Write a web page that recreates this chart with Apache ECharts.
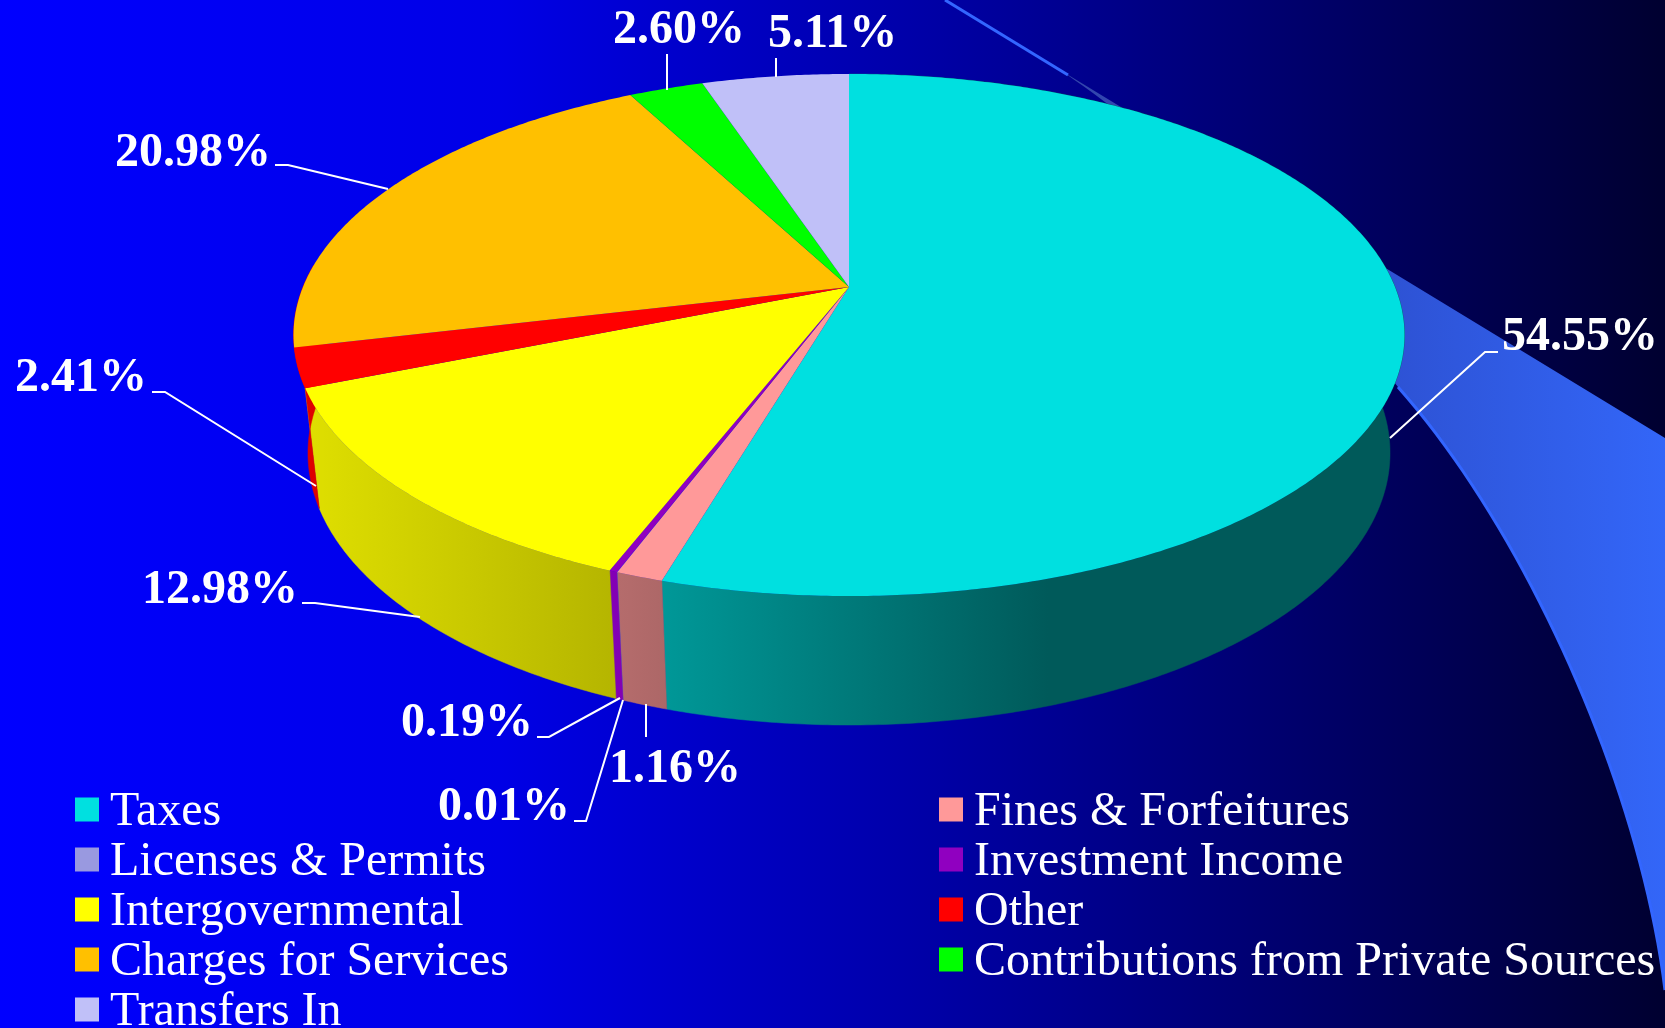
<!DOCTYPE html>
<html>
<head>
<meta charset="utf-8">
<title>Revenue sources</title>
<style>
  html, body { margin: 0; padding: 0; background: #000; }
  #chart { width: 1665px; height: 1028px; }
</style>
<script src="https://cdn.jsdelivr.net/npm/echarts@6/dist/echarts.min.js"></script>
</head>
<body>
<div id="chart"></div>
<script>
// values, clockwise from 12 o'clock
const categories = ['Taxes', 'Fines & Forfeitures', 'Licenses & Permits', 'Investment Income', 'Intergovernmental', 'Other', 'Charges for Services', 'Contributions from Private Sources', 'Transfers In']
const shares = [54.55, 1.16, 0.01, 0.19, 12.98, 2.41, 20.98, 2.60, 5.11]
const colors = ['#00E0E0', '#FF9999', '#9999E0', '#9000C0', '#FFFF00', '#FF0000', '#FFC000', '#00FF00', '#C0C0F8']
const sideColors = ['#00E0E0', '#FF9999', '#9999E0', '#B800FF', '#FFFF00', '#FF0000', '#FFC000', '#00FF00', '#C0C0F8']
const leftColumn = ['Taxes', 'Licenses & Permits', 'Intergovernmental', 'Charges for Services', 'Transfers In']
const rightColumn = ['Fines & Forfeitures', 'Investment Income', 'Other', 'Contributions from Private Sources']

// label anchors (text left, baseline) and leader lines, same order as categories
const labelPos = [[1502, 351], [609, 783], [438, 821], [401, 737], [142, 604], [15, 392], [115, 167], [613, 44], [768, 48]]
const leaderLines = [
  [[1390, 438], [1485, 352], [1498, 352]],
  [[646, 737], [646, 704]],
  [[574, 821], [586, 821], [623, 700]],
  [[537, 737], [549, 737], [620, 698]],
  [[302, 603], [315, 603], [420, 617]],
  [[152, 392], [165, 392], [316, 486]],
  [[275, 165], [288, 165], [388, 189]],
  [[667, 54], [667, 90]],
  [[776, 58], [776, 77]]
]

// the disc is drawn in perspective: its centre sits above the middle of the ellipse
const TILT = 0.1839
const topFace = { cx: 849, cy: 287, a: 546, b: 252.2 }
const baseFace = { cx: 849, cy: 403, a: 531.8, b: 262.8 }

function project(face, deg) {
  const t = deg * Math.PI / 180
  const u = Math.sin(t)
  const v = Math.cos(t)
  const w = 1 + TILT * v
  return [face.cx + face.a * u / w, face.cy - face.b * v / w]
}

function arc(face, from, to) {
  const n = Math.max(2, Math.ceil((to - from) / 0.5))
  const pts = []
  for (let i = 0; i <= n; i++) pts.push(project(face, from + (to - from) * i / n))
  return pts
}

const total = shares.reduce((s, v) => s + v, 0)
function sliceRange(index) {
  let before = 0
  for (let i = 0; i < index; i++) before += shares[i]
  return [before / total * 360, (before + shares[index]) / total * 360]
}

function shade(hex, f) {
  const n = parseInt(hex.slice(1), 16)
  const c = [n >> 16, (n >> 8) & 255, n & 255].map(x => Math.round(x * f))
  return 'rgb(' + c.join(',') + ')'
}

// side wall lighting goes left to right
function sideFill(color) {
  return new echarts.graphic.LinearGradient(300, 0, 1400, 0, [
    { offset: 0, color: shade(color, 0.88) },
    { offset: 0.3, color: shade(color, 0.7) },
    { offset: 0.68, color: shade(color, 0.4) },
    { offset: 1, color: shade(color, 0.4) }
  ], true)
}

// swoosh outline behind the pie, lower edge is two curves
function bezier(p0, p1, p2, p3) {
  const pts = []
  for (let i = 0; i <= 40; i++) {
    const t = i / 40
    const s = 1 - t
    pts.push([
      s * s * s * p0[0] + 3 * s * s * t * p1[0] + 3 * s * t * t * p2[0] + t * t * t * p3[0],
      s * s * s * p0[1] + 3 * s * s * t * p1[1] + 3 * s * t * t * p2[1] + t * t * t * p3[1]
    ])
  }
  return pts
}
const swooshLower = bezier([1665, 990], [1640, 785], [1525, 530], [1398, 387])
const swoosh = [[945, 0], [1665, 438]].concat(
  swooshLower,
  bezier([1398, 387], [1310, 275], [1190, 158], [1053, 65])
)

// walls behind the pie are never seen; the last front wall runs on to the silhouette
const WALL_END = 275
const sideSeries = categories.map((name, i) => ({
  type: 'custom',
  name: 'side ' + name,
  coordinateSystem: 'none',
  silent: true,
  z: 2,
  data: [[shares[i]]],
  renderItem() {
    const [from, to] = sliceRange(i)
    if (from > 180 + 76) return null
    const end = sliceRange(i + 1)[0] > 256 && sliceRange(i)[1] > 256 ? WALL_END : to
    const points = arc(topFace, from, end).concat(arc(baseFace, from, end).reverse())
    const fill = sideFill(sideColors[i])
    return { type: 'polygon', shape: { points }, style: { fill, stroke: fill, lineWidth: 0.5 } }
  }
}))

const topSeries = categories.map((name, i) => ({
  type: 'custom',
  name,
  coordinateSystem: 'none',
  silent: true,
  z: 3,
  itemStyle: { color: colors[i] },
  data: [[shares[i]]],
  renderItem() {
    const [from, to] = sliceRange(i)
    const points = [[topFace.cx, topFace.cy]].concat(arc(topFace, from, to))
    return { type: 'polygon', shape: { points }, style: { fill: colors[i] } }
  }
}))

const labelSeries = {
  type: 'custom',
  name: 'labels',
  coordinateSystem: 'none',
  silent: true,
  z: 4,
  data: shares.map((v, i) => [v, i]),
  renderItem(params, api) {
    const i = api.value(1)
    return {
      type: 'group',
      children: [
        { type: 'polyline', shape: { points: leaderLines[i] }, style: { fill: null, stroke: '#fff', lineWidth: 2 } },
        {
          type: 'text',
          x: labelPos[i][0],
          y: labelPos[i][1] - 13,
          style: {
            text: api.value(0).toFixed(2) + '%',
            fill: '#fff',
            font: 'bold 48px "Liberation Serif"',
            textAlign: 'left',
            textVerticalAlign: 'middle'
          }
        }
      ]
    }
  }
}

const legendBase = {
  orient: 'vertical',
  top: 783,
  height: 400,
  padding: 0,
  icon: 'rect',
  itemWidth: 24,
  itemHeight: 24,
  itemGap: -3,
  selectedMode: false,
  formatter: '{a|{name}}',
  textStyle: {
    color: '#fff',
    rich: {
      a: { color: '#fff', fontFamily: 'Liberation Serif', fontSize: 48, lineHeight: 48, padding: [5, 0, 0, 6] }
    }
  }
}

const myChart = echarts.init(document.getElementById('chart'), null, { renderer: 'canvas' })
myChart.setOption({
  animation: false,
  backgroundColor: new echarts.graphic.LinearGradient(0, 0, 1, 0, [
    { offset: 0, color: '#0000FF' },
    { offset: 0.3, color: '#0000E6' },
    { offset: 0.55, color: '#0000A8' },
    { offset: 0.8, color: '#000066' },
    { offset: 1, color: '#000030' }
  ]),
  legend: [
    Object.assign({}, legendBase, { left: 75, data: leftColumn }),
    Object.assign({}, legendBase, { left: 939, data: rightColumn })
  ],
  graphic: [{
    type: 'polygon',
    z: 1,
    silent: true,
    shape: { points: swoosh },
    style: {
      fill: new echarts.graphic.LinearGradient(1050, 0, 1665, 0, [
        { offset: 0, color: '#3344A8' },
        { offset: 0.5, color: '#2D50D0' },
        { offset: 1, color: '#3366F8' }
      ], true)
    }
  }, {
    type: 'polyline',
    z: 1,
    silent: true,
    shape: { points: swooshLower },
    style: { fill: null, stroke: '#3366FF', lineWidth: 3 }
  }, {
    type: 'polyline',
    z: 1,
    silent: true,
    shape: { points: [[945, 0], [1068, 75]] },
    style: { fill: null, stroke: '#3366FF', lineWidth: 3 }
  }],
  series: sideSeries.concat(topSeries, [labelSeries])
})
</script>
</body>
</html>
